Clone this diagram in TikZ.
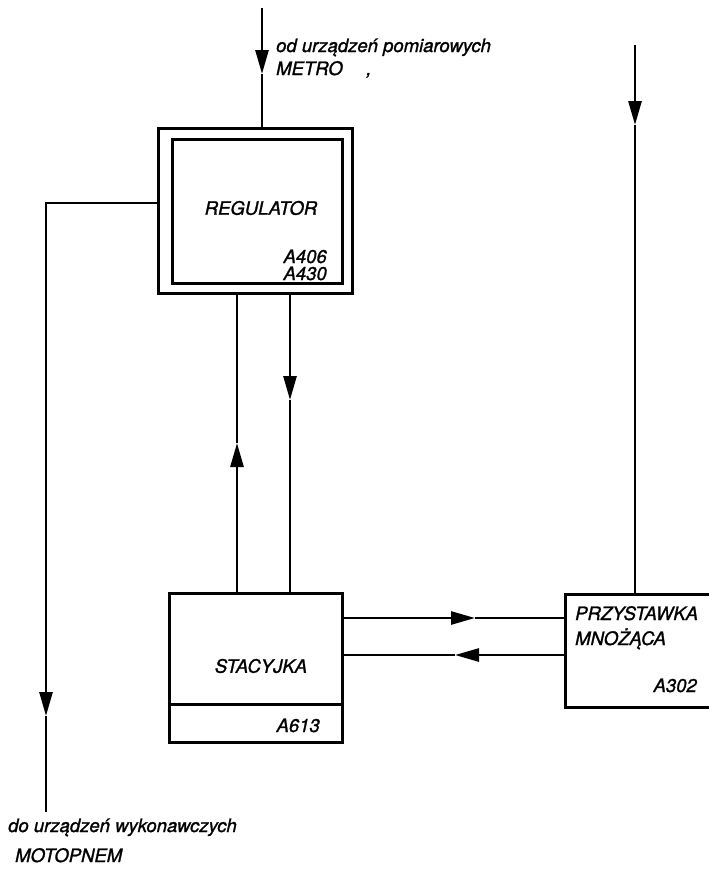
\documentclass[tikz,border=0pt]{standalone}
\usepackage{fontspec}
\setmainfont{TeX Gyre Heros}
\newfontfamily\lblfont{TeX Gyre Heros}[FakeBold=1.3]
\usetikzlibrary{arrows.meta}
\begin{document}
\begin{tikzpicture}[x=1pt,y=-1pt,
  wire/.style={line width=2.7pt},
  box/.style={draw,line width=3pt,inner sep=0pt},
  lbl/.style={font=\lblfont\fontsize{18.5}{20}\selectfont\itshape,inner sep=0pt},
  tipd/.style={-{Triangle[length=24pt,width=13pt]}}]
\useasboundingbox (0,0) rectangle (709,873);
\clip (0,0) rectangle (709,873);
% boxes
\node[box,minimum width=194pt,minimum height=165pt] (reg) at (255,210.5) {};
\node[box,minimum width=170pt,minimum height=144pt] (regin) at (257,211) {};
\node[box,minimum width=173pt,minimum height=149pt] (sta) at (255.5,667.5) {};
\node[box,minimum width=220pt,minimum height=113pt,anchor=north west] (prz) at (564,593) {};
\coordinate (div) at (0,704);
\draw[line width=3pt] (sta.west |- div) -- (sta.east |- div);
% texts
\node[lbl,anchor=base west] (t1) at (276,52) {od urządzeń pomiarowych};
\node[lbl,anchor=base west] (t2) at (276,75) {METRO \quad ,};
\node[lbl] (t3) at (261,208) {REGULATOR};
\node[lbl,anchor=base east] (t4) at (327,263) {A406};
\node[lbl,anchor=base east] (t5) at (327,280) {A430};
\node[lbl] (t6) at (261,666) {STACYJKA};
\node[lbl,anchor=base east] (t7) at (320,732) {A613};
\node[lbl,anchor=base west] (t8) at (575,620) {PRZYSTAWKA};
\node[lbl,anchor=base west] (t9) at (575,645) {MNOŻĄCA};
\node[lbl,anchor=base east] (t10) at (697,692) {A302};
\node[lbl,anchor=base west] (t11) at (8,832) {do urządzeń wykonawczych};
\node[lbl,anchor=base west] (t12) at (15,862) {MOTOPNEM};
% top input
\coordinate (metIn) at (262,8);
\coordinate (metTip) at (262,74);
\draw[wire,tipd] (metIn) -- (metTip);
\draw[wire] (metTip) -- (metTip |- reg.north);
% right input
\coordinate (mulIn) at (635,45);
\coordinate (mulTip) at (635,125);
\draw[wire,tipd] (mulIn) -- (mulTip);
\draw[wire] (mulTip) -- (mulTip |- prz.north);
% left output
\coordinate (lc) at (46,203);
\coordinate (lTip) at (46,716);
\coordinate (lEnd) at (46,812);
\draw[wire,tipd] (reg.west |- lc) -- (lc) -- (lTip);
\draw[wire] (lTip) -- (lEnd);
% vertical links
\coordinate (upTip) at (237,443);
\coordinate (dnTip) at (290,400);
\draw[wire,tipd] (sta.north -| upTip) -- (upTip);
\draw[wire] (upTip) -- (reg.south -| upTip);
\draw[wire,tipd] (reg.south -| dnTip) -- (dnTip);
\draw[wire] (dnTip) -- (sta.north -| dnTip);
% horizontal links
\coordinate (rTip) at (475,618);
\coordinate (lfTip) at (455,655);
\draw[wire,tipd] (sta.east |- rTip) -- (rTip);
\draw[wire] (rTip) -- (prz.west |- rTip);
\draw[wire,tipd] (prz.west |- lfTip) -- (lfTip);
\draw[wire] (lfTip) -- (sta.east |- lfTip);
\end{tikzpicture}
\end{document}
